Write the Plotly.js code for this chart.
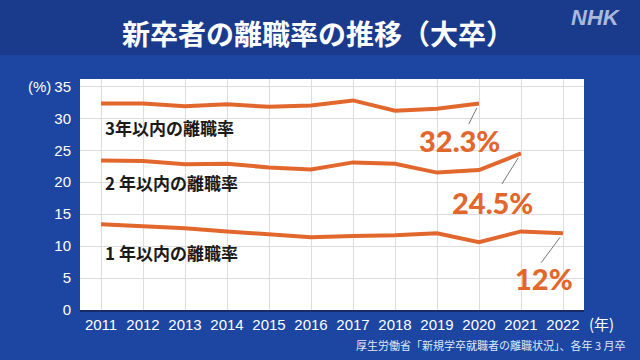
<!DOCTYPE html>
<html>
<head>
<meta charset="utf-8">
<script src="https://cdn.plot.ly/plotly-3.0.1.min.js"></script>
<style>html,body{margin:0;padding:0;background:#1d46a3;}#chart{width:640px;height:360px;}</style>
</head>
<body>
<div id="chart"></div>
<script>
// Data (大卒, 各年3月卒)
const years = [2011, 2012, 2013, 2014, 2015, 2016, 2017, 2018, 2019, 2020, 2021, 2022];
const rate3 = [32.3, 32.3, 31.9, 32.2, 31.8, 32.0, 32.8, 31.2, 31.5, 32.3];
const rate2 = [23.4, 23.3, 22.8, 22.9, 22.3, 22.0, 23.1, 22.9, 21.5, 21.9, 24.5];
const rate1 = [13.4, 13.1, 12.8, 12.3, 11.9, 11.4, 11.6, 11.7, 12.0, 10.6, 12.3, 12.0];
const seriesLabels = ['3年以内の離職率', '2 年以内の離職率', '1 年以内の離職率'];
const yTicks = [0, 5, 10, 15, 20, 25, 30, 35];

const ORANGE = '#e2672d';
const JP = '"Noto Sans CJK JP", "Noto Sans", sans-serif';
const NUM = 'Lato, "Noto Sans", sans-serif';

function lineTrace(vals) {
  return {
    x: years.slice(0, vals.length), y: vals, type: 'scatter', mode: 'lines',
    line: {color: ORANGE, width: 4}, hoverinfo: 'skip', showlegend: false
  };
}

const series = [rate3, rate2, rate1];
const labelY = [28.6, 20.0, 9.0];
const endOffsets = [[-20, 37], [-29, 49], [-19, 45]];
const leaderOffsets = [[-11, 22], [-20, 32], [-23, 31]];

const annotations = [];
series.forEach((vals, i) => {
  const n = vals.length - 1;
  const lx = years[n], ly = vals[n];
  annotations.push({
    x: years[0], y: labelY[i], xref: 'x', yref: 'y', xanchor: 'left', yanchor: 'middle',
    xshift: 2, text: seriesLabels[i], showarrow: false,
    font: {family: JP, size: 17, color: '#1a1a1a', weight: 'bold'}
  });
  const val = ly % 1 === 0 ? String(ly) : ly.toFixed(1);
  annotations.push({
    x: lx, y: ly, xref: 'x', yref: 'y', xanchor: 'center', yanchor: 'middle',
    xshift: endOffsets[i][0], yshift: -endOffsets[i][1],
    text: val + '%', showarrow: false,
    font: {family: NUM, size: 29, color: ORANGE, weight: 900}
  });
  annotations.push({
    x: lx, y: ly, xref: 'x', yref: 'y', text: '', showarrow: true,
    arrowhead: 0, arrowwidth: 0.8, arrowcolor: '#555', standoff: 5,
    ax: leaderOffsets[i][0], ay: leaderOffsets[i][1], axref: 'pixel', ayref: 'pixel'
  });
});

annotations.push({xref: 'paper', yref: 'paper', x: -0.08, y: 1.0, xanchor: 'center', yanchor: 'middle',
  yshift: -(86 - 79), text: '(%)', showarrow: false, font: {family: 'Liberation Sans, Arial, sans-serif', size: 15, color: '#ffffff'}});
annotations.push({xref: 'paper', yref: 'paper', x: (601 - 80) / 504, y: (310 - 323) / 231, xanchor: 'center', yanchor: 'middle',
  text: '(年)', showarrow: false, font: {family: JP, size: 15, color: '#ffffff'}});
annotations.push({xref: 'paper', yref: 'paper', x: (596 - 80) / 504, y: (310 - 17) / 231, xanchor: 'center', yanchor: 'middle',
  text: '<b><i>NHK</i></b>', showarrow: false, font: {family: 'Liberation Sans, Arial, sans-serif', size: 22, color: '#a9b9d9'}});
annotations.push({xref: 'paper', yref: 'paper', x: (628 - 80) / 504, y: (310 - 345) / 231, xanchor: 'right', yanchor: 'middle',
  text: '厚生労働省「新規学卒就職者の離職状況」、各年 3 月卒', showarrow: false, font: {family: JP, size: 11, color: '#dfe6f4'}});

const layout = {
  width: 640, height: 360,
  margin: {l: 80, r: 56, t: 79, b: 50, pad: 0},
  paper_bgcolor: '#1d46a3', plot_bgcolor: '#ffffff',
  title: {text: '新卒者の離職率の推移（大卒）', x: 0.497, xanchor: 'center', y: 1 - 35 / 360, yanchor: 'middle', yref: 'container',
    font: {family: JP, size: 28, color: '#ffffff', weight: 'bold'}},
  xaxis: {range: [2010.5, 2022.5], tickvals: years, ticktext: years.map(String), showgrid: true, gridcolor: '#dddddd', gridwidth: 1,
    zeroline: false, showline: true, linecolor: '#1a2c66', linewidth: 2, ticks: '', ticklabelstandoff: 0,
    tickfont: {family: 'Liberation Sans, Arial, sans-serif', size: 15, color: '#ffffff'}, fixedrange: true},
  yaxis: {range: [0, 36.15], tickvals: yTicks, showgrid: true, gridcolor: '#dddddd', gridwidth: 1, zeroline: false,
    showline: false, ticks: '', ticklabelstandoff: 8,
    tickfont: {family: 'Liberation Sans, Arial, sans-serif', size: 15, color: '#ffffff'}, fixedrange: true},
  shapes: [{type: 'rect', xref: 'paper', yref: 'paper', x0: -80 / 504, x1: 1 + 56 / 504, y0: 1 + (79 - 55) / 231, y1: 1 + 79 / 231 + 0.01,
    fillcolor: '#1a3b8c', line: {width: 0}, layer: 'below'}],
  annotations: annotations,
  showlegend: false
};

Plotly.newPlot('chart', series.map(lineTrace), layout, {staticPlot: true, displayModeBar: false});
</script>
</body>
</html>
